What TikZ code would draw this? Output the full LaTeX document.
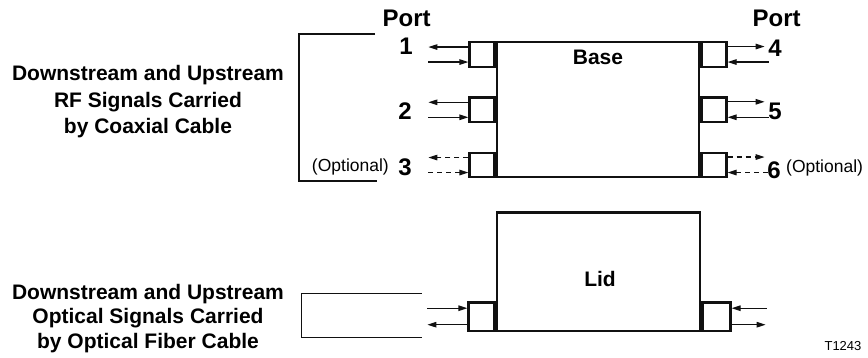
\documentclass[tikz,border=0pt]{standalone}
\usepackage{fontspec}
\setmainfont{Liberation Sans}
\usetikzlibrary{arrows.meta,positioning}
\definecolor{diagink}{HTML}{111111}

\begin{document}
\begin{tikzpicture}[x=1pt,y=-1pt,font=\fontsize{21}{26.5}\selectfont,
    >={Triangle[length=9pt,width=5.5pt]},
    box/.style={draw=diagink,line width=2.4pt,inner sep=0pt},
    portbox/.style={box,minimum width=25pt,minimum height=24.5pt},
    sig/.style={draw=diagink,line width=1.2pt},
    opt sig/.style={sig,dash pattern=on 5pt off 4pt},
    cable/.style={draw=diagink,line width=1.2pt},
    portnum/.style={font=\fontsize{24}{28}\selectfont\bfseries,inner sep=0pt},
    boxname/.style={font=\fontsize{21}{24}\selectfont\bfseries,inner sep=0pt},
    opt/.style={font=\fontsize{17.5}{20}\selectfont,inner sep=0pt}]
        \useasboundingbox (0,0) rectangle (868,358);

        % base with the coaxial ports
        \node[box,minimum width=202pt,minimum height=135pt] (base) at (598,109.8) {};
        \node[boxname,below=9pt of base.north] (basetxt) {Base};
        \node[portbox,anchor=north east] (p1) at (base.north west) {};
        \node[portbox,anchor=east] (p2) at (base.west) {};
        \node[portbox,anchor=south east] (p3) at (base.south west) {};
        \node[portbox,anchor=north west] (p4) at (base.north east) {};
        \node[portbox,anchor=west] (p5) at (base.east) {};
        \node[portbox,anchor=south west] (p6) at (base.south east) {};

        \foreach \n/\st in {1/sig,2/sig,3/opt sig} {
          \draw[\st,->] ([yshift=7.5pt]p\n.west) -- ++(-40,0);
          \draw[\st,<-] ([yshift=-7.5pt]p\n.west) -- ++(-40,0);
        }
        \foreach \n/\st in {4/sig,5/sig,6/opt sig} {
          \draw[\st,->] ([yshift=8pt]p\n.east) -- ++(37,0);
          \draw[\st,<-] ([yshift=-7.5pt]p\n.east) -- ++(41,0);
        }

        \node[portnum] (portl) at (406.7,18.3) {Port};
        \node[portnum] (portr) at (776.7,18.3) {Port};
        \foreach \n/\x/\y in {1/406/46.7,2/405/111.5,3/405/167,4/775/48.5,5/775/111.7,6/774/170}
          \node[portnum] (num\n) at (\x,\y) {\n};
        \node[opt,anchor=east] (optl) at (389,167) {(Optional)};
        \node[opt,anchor=west] (optr) at (786,167.5) {(Optional)};

        \draw[cable] (375,34) -- (299,34) -- (299,181) -- (377,181);
        \node[align=center,font=\fontsize{21}{26.5}\selectfont\bfseries] (coaxtxt) at (148,102)
          {Downstream and Upstream\\RF Signals Carried\\by Coaxial Cable};

        % lid with the fiber ports
        \node[box,minimum width=203pt,minimum height=118pt] (lid) at (598.5,271.7) {};
        \node[boxname] (lidtxt) at (600,279.3) {Lid};
        \node[portbox,minimum width=26pt,minimum height=28pt,anchor=south east] (lp1) at (lid.south west) {};
        \node[portbox,minimum width=28pt,minimum height=28pt,anchor=south west] (lp2) at (lid.south east) {};

        \draw[sig,<-] ([yshift=8.5pt]lp1.west) -- ++(-40,0);
        \draw[sig,->] ([yshift=-8pt]lp1.west) -- ++(-40,0);
        \draw[sig,<-] ([yshift=8.5pt]lp2.east) -- ++(35,0);
        \draw[sig,->] ([yshift=-8pt]lp2.east) -- ++(34,0);

        \draw[cable] (421.7,293.3) -- (301.7,293.3) -- (301.7,337.3) -- (421.7,337.3);
        \node[align=center,font=\fontsize{21}{24.5}\selectfont\bfseries] (fibertxt) at (148,318.5)
          {Downstream and Upstream\\Optical Signals Carried\\by Optical Fiber Cable};

        \node[font=\fontsize{13}{15}\selectfont,inner sep=0pt] (figid) at (843,346) {T1243};
      \end{tikzpicture}
\end{document}
